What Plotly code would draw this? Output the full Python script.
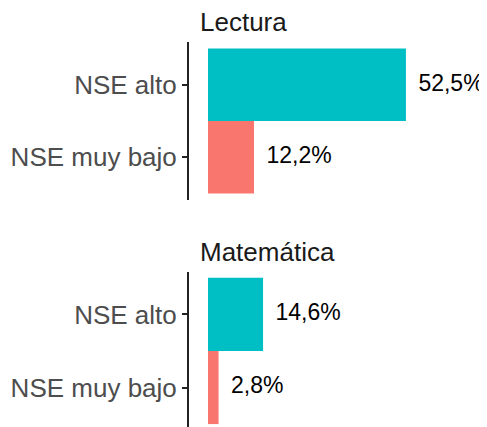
import plotly.graph_objects as go

categories = ["NSE muy bajo", "NSE alto"]
lectura = [12.2, 52.5]
matematica = [2.8, 14.6]
labels_lectura = ["12,2%", "52,5%"]
labels_matematica = ["2,8%", "14,6%"]
panel_titles = ["Lectura", "Matemática"]
colors = ["#F8766D", "#00BFC4"]

# page body has an 8px margin, so the figure is drawn 8px in from the top-left
OFF = 8
W, H = 487 - OFF, 427 - OFF
FONT = "Liberation Sans, Arial"

fig = go.Figure()

panels = [
    (lectura, labels_lectura, "x", "y"),
    (matematica, labels_matematica, "x2", "y2"),
]
for vals, labs, xa, ya in panels:
    fig.add_trace(go.Bar(
        y=categories, x=vals, orientation="h", width=1.0,
        marker=dict(color=colors, line=dict(width=0)),
        xaxis=xa, yaxis=ya, showlegend=False, hoverinfo="skip",
    ))
    fig.add_trace(go.Scatter(
        y=categories, x=[v + 3.3 for v in vals], mode="text",
        text=labs, textposition="middle right",
        textfont=dict(family=FONT, size=23, color="#000000"),
        xaxis=xa, yaxis=ya, showlegend=False, hoverinfo="skip",
    ))

def px_x(p):
    return (p - OFF) / W

def px_y(p):
    return 1 - (p - OFF) / H

xrange = [-5.04, 74.0]
axis_common = dict(
    showgrid=False, zeroline=False, showline=True, linecolor="#222222",
    linewidth=2, ticks="outside", ticklen=5, tickwidth=2, tickcolor="#222222",
    tickfont=dict(family=FONT, size=26, color="#4D4D4D"),
    categoryorder="array", categoryarray=categories, fixedrange=True,
)
xaxis_common = dict(range=xrange, visible=False, fixedrange=True)

fig.update_layout(
    width=W, height=H,
    margin=dict(l=0, r=0, t=0, b=0),
    paper_bgcolor="white", plot_bgcolor="white",
    xaxis=dict(domain=[px_x(189), 1.0], anchor="y", **xaxis_common),
    xaxis2=dict(domain=[px_x(189), 1.0], anchor="y2", **xaxis_common),
    yaxis=dict(domain=[px_y(200), px_y(42)], anchor="x",
               range=[-0.59, 1.59], **axis_common),
    yaxis2=dict(domain=[0.0, px_y(272)], anchor="x2",
                range=[-0.54, 1.58], **axis_common),
    annotations=[
        dict(text=panel_titles[0], xref="paper", yref="paper",
             x=px_x(198), y=px_y(22), xanchor="left", yanchor="middle",
             showarrow=False,
             font=dict(family=FONT, size=26, color="#1A1A1A")),
        dict(text=panel_titles[1], xref="paper", yref="paper",
             x=px_x(198), y=px_y(252), xanchor="left", yanchor="middle",
             showarrow=False,
             font=dict(family=FONT, size=26, color="#1A1A1A")),
    ],
)

fig.write_html("out.html")
